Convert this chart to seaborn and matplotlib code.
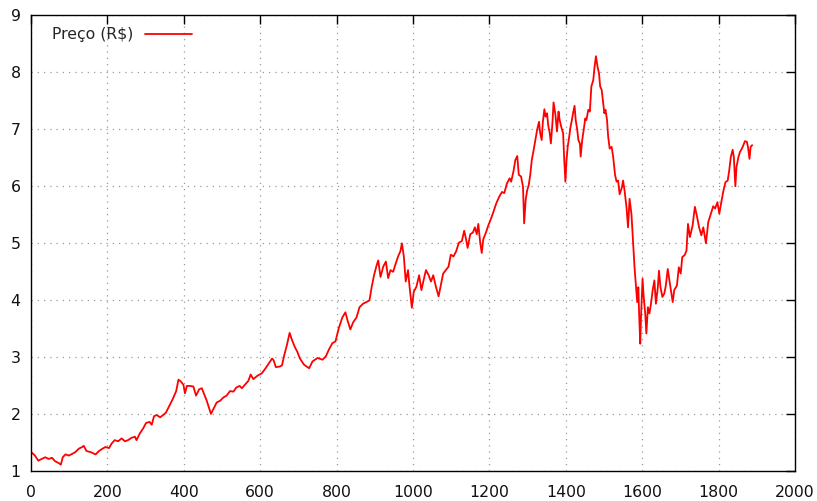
import matplotlib
matplotlib.use("Agg")
import matplotlib.pyplot as plt
import seaborn as sns
import pandas as pd

# Trading day index
dia = [
    2, 10, 19, 28, 37, 46, 55, 63, 72, 78, 83, 90, 99, 108, 116, 125, 134, 138, 145, 156,
    169, 178, 187, 195, 204, 211, 219, 228, 237, 246, 254, 263, 272, 276, 285, 294, 301, 310, 316, 322,
    329, 338, 346, 353, 362, 371, 380, 386, 392, 399, 403, 408, 416, 425, 432, 440, 447, 453, 460, 467,
    471, 477, 486, 495, 504, 512, 521, 530, 537, 546, 552, 561, 569, 575, 582, 593, 604, 613, 622, 631,
    635, 641, 651, 657, 663, 670, 677, 683, 690, 697, 704, 715, 728, 737, 750, 763, 772, 780, 789, 797,
    806, 815, 823, 829, 836, 843, 852, 860, 869, 878, 886, 892, 898, 905, 909, 915, 922, 929, 935, 941,
    948, 955, 961, 967, 971, 976, 981, 987, 991, 997, 1002, 1009, 1016, 1022, 1028, 1034, 1041, 1047, 1053, 1060,
    1067, 1073, 1079, 1086, 1093, 1099, 1106, 1113, 1120, 1128, 1134, 1139, 1143, 1150, 1157, 1162, 1167, 1171, 1176, 1180,
    1184, 1191, 1197, 1203, 1209, 1218, 1226, 1233, 1239, 1246, 1253, 1257, 1263, 1268, 1273, 1277, 1283, 1288, 1291, 1295,
    1299, 1303, 1307, 1311, 1316, 1321, 1325, 1330, 1333, 1337, 1340, 1344, 1347, 1351, 1354, 1358, 1361, 1365, 1368, 1373,
    1377, 1381, 1384, 1389, 1393, 1396, 1399, 1402, 1405, 1409, 1412, 1416, 1419, 1423, 1426, 1430, 1433, 1437, 1439, 1443,
    1447, 1451, 1454, 1459, 1463, 1467, 1472, 1475, 1479, 1483, 1487, 1490, 1494, 1497, 1501, 1504, 1508, 1511, 1515, 1520,
    1524, 1529, 1533, 1537, 1541, 1547, 1550, 1554, 1559, 1563, 1567, 1572, 1576, 1580, 1584, 1587, 1590, 1592, 1595, 1597,
    1601, 1604, 1608, 1611, 1615, 1619, 1623, 1628, 1632, 1636, 1641, 1644, 1648, 1653, 1658, 1662, 1667, 1672, 1676, 1680,
    1684, 1691, 1696, 1701, 1705, 1711, 1716, 1720, 1725, 1732, 1738, 1743, 1749, 1755, 1760, 1767, 1773, 1780, 1786, 1791,
    1797, 1802, 1808, 1813, 1818, 1824, 1828, 1832, 1837, 1840, 1844, 1847, 1852, 1856, 1861, 1865, 1869, 1874, 1877, 1881,
    1884, 1888,
]

# Closing price (R$)
preco = [
    1.32, 1.27, 1.18, 1.21, 1.24, 1.21, 1.23, 1.17, 1.14, 1.11, 1.24, 1.29, 1.27, 1.30, 1.33, 1.39, 1.42, 1.44, 1.35, 1.33,
    1.29, 1.35, 1.39, 1.42, 1.40, 1.48, 1.54, 1.52, 1.57, 1.52, 1.54, 1.58, 1.60, 1.54, 1.66, 1.75, 1.84, 1.86, 1.81, 1.96,
    1.98, 1.94, 1.98, 2.02, 2.14, 2.26, 2.40, 2.60, 2.57, 2.51, 2.36, 2.49, 2.49, 2.48, 2.32, 2.43, 2.45, 2.35, 2.23, 2.08,
    2.00, 2.08, 2.20, 2.23, 2.29, 2.32, 2.40, 2.39, 2.46, 2.49, 2.45, 2.52, 2.58, 2.69, 2.61, 2.67, 2.71, 2.79, 2.88, 2.97,
    2.94, 2.82, 2.83, 2.85, 3.03, 3.21, 3.42, 3.30, 3.18, 3.09, 2.97, 2.86, 2.80, 2.92, 2.98, 2.95, 3.01, 3.13, 3.24, 3.27,
    3.51, 3.69, 3.78, 3.63, 3.48, 3.60, 3.69, 3.87, 3.93, 3.96, 3.99, 4.23, 4.43, 4.61, 4.69, 4.40, 4.58, 4.67, 4.38, 4.52,
    4.49, 4.64, 4.76, 4.85, 4.99, 4.76, 4.32, 4.52, 4.23, 3.86, 4.14, 4.23, 4.43, 4.17, 4.35, 4.52, 4.43, 4.32, 4.43, 4.23,
    4.06, 4.26, 4.46, 4.52, 4.58, 4.79, 4.76, 4.85, 5.00, 5.03, 5.21, 5.06, 4.91, 5.15, 5.18, 5.27, 5.15, 5.33, 5.00, 4.82,
    5.06, 5.18, 5.30, 5.40, 5.51, 5.69, 5.81, 5.89, 5.87, 6.04, 6.13, 6.07, 6.25, 6.45, 6.52, 6.19, 6.16, 5.98, 5.34, 5.75,
    5.92, 6.01, 6.19, 6.45, 6.63, 6.83, 6.98, 7.12, 6.92, 6.80, 7.12, 7.34, 7.21, 7.27, 7.06, 6.92, 6.74, 7.09, 7.46, 7.24,
    6.95, 7.30, 7.15, 7.01, 6.92, 6.45, 6.07, 6.45, 6.68, 6.86, 7.01, 7.15, 7.27, 7.40, 7.15, 6.98, 6.80, 6.74, 6.51, 6.80,
    6.98, 7.18, 7.15, 7.33, 7.30, 7.74, 7.85, 8.06, 8.27, 8.09, 7.97, 7.74, 7.68, 7.50, 7.27, 7.33, 7.15, 6.86, 6.65, 6.68,
    6.51, 6.19, 6.07, 6.09, 5.85, 5.97, 6.09, 5.91, 5.62, 5.27, 5.77, 5.50, 5.04, 4.57, 4.22, 3.96, 4.22, 3.76, 3.23, 3.70,
    4.37, 4.05, 3.76, 3.41, 3.87, 3.76, 3.93, 4.19, 4.34, 3.93, 4.22, 4.51, 4.22, 4.05, 4.11, 4.25, 4.54, 4.31, 4.14, 3.96,
    4.17, 4.25, 4.57, 4.46, 4.75, 4.78, 4.86, 5.33, 5.10, 5.30, 5.63, 5.48, 5.27, 5.13, 5.27, 4.99, 5.36, 5.51, 5.64, 5.60,
    5.71, 5.51, 5.74, 5.92, 6.06, 6.09, 6.27, 6.50, 6.63, 6.50, 5.99, 6.33, 6.50, 6.59, 6.65, 6.71, 6.78, 6.77, 6.68, 6.47,
    6.68, 6.71,
]

x_ticks = list(range(0, 2001, 200))
y_ticks = list(range(1, 10))
serie = "Preço (R$)"

sns.set_style("white")
plt.rcParams["font.family"] = ["DejaVu Sans"]

df = pd.DataFrame({"dia": dia, "preco": preco})

fig = plt.figure(figsize=(8.17, 5.01), dpi=100)
ax = fig.add_axes([0.038, 0.060, 0.935, 0.911])

sns.lineplot(data=df, x="dia", y="preco", ax=ax, color="#ff0000",
             linewidth=1.3, estimator=None, sort=False, label=serie)

ax.set_xlim(0, 2000)
ax.set_ylim(1, 9)
ax.set_xticks(x_ticks)
ax.set_yticks(y_ticks)
ax.set_xlabel("")
ax.set_ylabel("")

ax.grid(True, color="#9a9a9a", linestyle=(0, (1, 4)), linewidth=0.9)
ax.set_axisbelow(True)

for s in ax.spines.values():
    s.set_visible(True)
    s.set_color("black")
    s.set_linewidth(1.0)

ax.tick_params(axis="both", which="major", direction="in", length=6.5, width=1.0,
               color="black", labelsize=11.3, labelcolor="#111111",
               top=True, right=True)
ax.tick_params(axis="x", pad=10)
ax.tick_params(axis="y", pad=7.5)

ax.legend(loc="upper left", bbox_to_anchor=(0.027, 0.972), frameon=False,
          markerfirst=False, handlelength=3.0, handletextpad=0.75,
          borderpad=0, borderaxespad=0, fontsize=11.3)

fig.savefig("out.png", dpi=100, facecolor="white")
